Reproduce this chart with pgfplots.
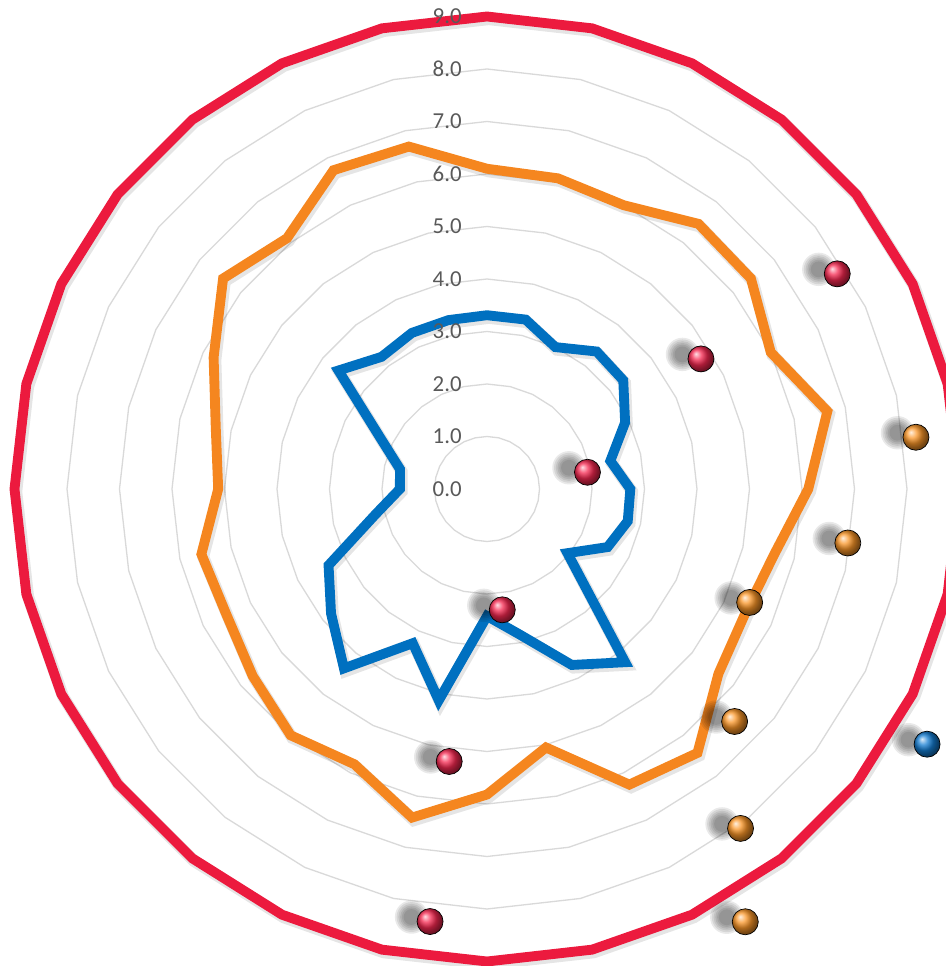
\documentclass[border=0pt]{standalone}
\usepackage{pgfplots}
\pgfplotsset{compat=1.18}
\usepackage{pgfplotstable}
\usepgfplotslibrary{polar}
\usepackage{fontspec}
\setmainfont{Carlito}
\definecolor{cred}{RGB}{236,26,62}
\definecolor{corange}{RGB}{245,134,31}
\definecolor{cblue}{RGB}{0,112,192}
\definecolor{gridc}{RGB}{217,217,217}
\definecolor{labc}{RGB}{89,89,89}
\definecolor{bred}{RGB}{245,40,80}
\definecolor{borange}{RGB}{250,150,40}
\definecolor{bblue}{RGB}{20,125,210}

\pgfplotstableread{
a blue orange red
90 3.31 6.10 9
77.1429 3.31 6.07 9
64.2857 3.00 6.00 9
51.4286 3.35 6.46 9
38.5714 3.32 6.43 9
25.7143 2.92 6.00 9
12.8571 2.41 6.65 9
0 2.73 6.12 9
347.1429 2.75 5.61 9
334.2857 2.55 5.46 9
321.4286 1.96 5.64 9
308.5714 4.22 6.43 9
295.7143 3.72 6.25 9
282.8571 2.85 5.05 9
270 2.42 5.82 9
257.1429 4.13 6.42 9
244.2857 3.26 5.82 9
231.4286 4.37 6.00 9
218.5714 3.80 5.71 9
205.7143 3.35 5.51 9
192.8571 2.18 5.58 9
180 1.66 5.12 9
167.1429 1.70 5.30 9
154.2857 2.26 5.78 9
141.4286 3.62 6.43 9
128.5714 3.22 6.11 9
115.7143 3.30 6.74 9
102.8571 3.30 6.69 9
}\data

\pgfplotstableread{
a r
31.56 7.83
31.30 4.77
9.45 1.94
277.2 2.32
262.1 5.24
262.5 8.31
}\redpts

\pgfplotstableread{
a r
6.88 8.23
351.49 6.95
336.64 5.45
316.8 6.47
306.76 8.07
300.83 9.60
}\orangepts

\pgfplotstableread{
a r
329.89 9.69
}\bluepts

\begin{document}
\begin{tikzpicture}
\begin{polaraxis}[
  name=ax,
  width=18.9cm, height=18.9cm, scale only axis,
  ymin=0, ymax=9,
  hide axis, clip=false,
  line shadow/.style={preaction={draw=black, draw opacity=0.10, line width=6.8pt, transform canvas={xshift=1pt, yshift=-1.5pt}}},
  ball shadow/.style={only marks, mark=*, mark size=#1pt, mark options={draw=black, draw opacity=0, line width=0pt, fill=black, fill opacity=0.085, xshift=-0.37cm, yshift=0.09cm}},
]
\coordinate (C) at (axis cs:0,0);
\pgfplotsinvokeforeach{1,...,8}{
  \addplot[gridc, line width=0.75pt, mark=none] table[x=a, y expr=#1] {\data} -- cycle;
}
\addplot[cred, line width=5.6pt, mark=none, line shadow] table[x=a, y=red] {\data} -- cycle;
\addplot[corange, line width=5.6pt, mark=none, line shadow] table[x=a, y=orange] {\data} -- cycle;
\addplot[cblue, line width=5.6pt, mark=none, line shadow] table[x=a, y=blue] {\data} -- cycle;

% ball shadows (soft, layered)
\pgfplotsinvokeforeach{4.5,5.5,6.5,7.5,8.5,9.5}{
  \addplot[ball shadow=#1] table[x=a, y=r] {\redpts};
  \addplot[ball shadow=#1] table[x=a, y=r] {\orangepts};
  \addplot[ball shadow=#1] table[x=a, y=r] {\bluepts};
}

\addplot[only marks, mark=ball, mark size=7.4pt, mark options={ball color=bred}] table[x=a, y=r] {\redpts};
\addplot[only marks, mark=ball, mark size=7.4pt, mark options={ball color=borange}] table[x=a, y=r] {\orangepts};
\addplot[only marks, mark=ball, mark size=7.4pt, mark options={ball color=bblue}] table[x=a, y=r] {\bluepts};

\pgfplotsinvokeforeach{0,...,9}{
  \node[anchor=east, inner sep=0pt, xshift=-0.5cm, text=labc, font=\fontsize{13}{15}\selectfont] at (axis cs:90,#1) {#1.0};
}
\end{polaraxis}
\pgfresetboundingbox
\path[use as bounding box] (C) ++(-9.74cm,-9.54cm) rectangle ++(18.92cm,19.32cm);
\end{tikzpicture}
\end{document}
